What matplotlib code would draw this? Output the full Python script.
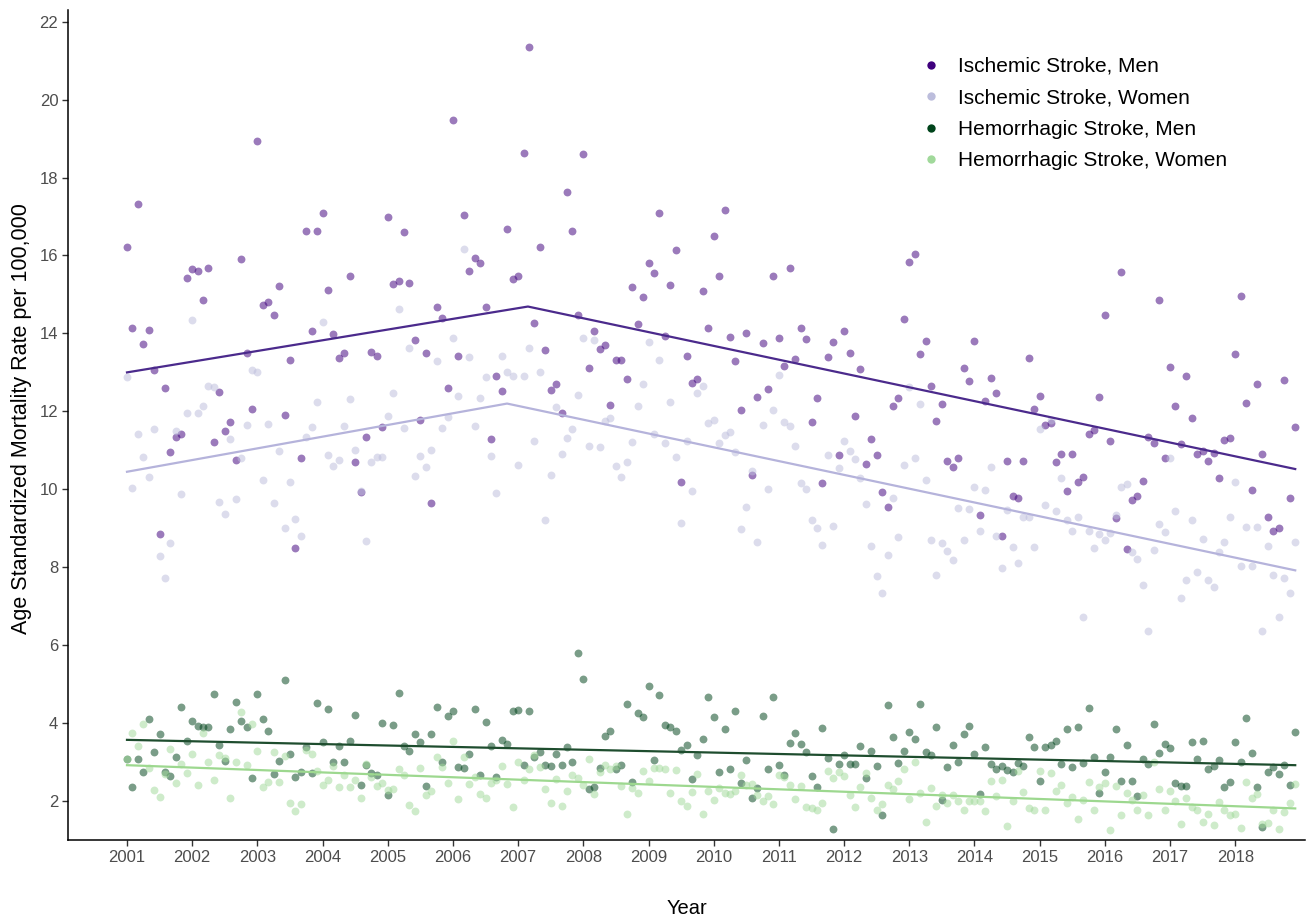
import matplotlib
matplotlib.use("Agg")
import matplotlib.pyplot as plt
from matplotlib.lines import Line2D
import numpy as np

plt.rcParams["font.family"] = ["Liberation Sans", "DejaVu Sans"]

years = list(range(2001, 2019))

# monthly age standardized mortality rates, one row per year (Jan..Dec)
isch_men = [
    [16.22, 14.15, 17.31, 13.72, 14.08, 13.05, 8.86, 12.59, 10.95, 11.34, 11.43, 15.41],
    [15.65, 15.61, 14.85, 15.69, 11.22, 12.49, 11.49, 11.73, 10.76, 15.90, 13.49, 12.05],
    [18.95, 14.74, 14.81, 14.48, 15.22, 11.90, 13.33, 8.50, 10.81, 16.62, 14.06, 16.62],
    [17.09, 15.12, 13.99, 13.36, 13.51, 15.47, 10.70, 9.94, 11.34, 13.53, 13.41, 11.59],
    [16.99, 15.28, 15.35, 16.60, 15.29, 13.82, 11.78, 13.50, 9.64, 14.68, 14.40, 12.61],
    [19.47, 13.42, 17.04, 15.59, 15.94, 15.80, 14.68, 11.28, 12.91, 12.53, 16.67, 15.39],
    [15.47, 18.64, 21.34, 14.27, 16.23, 13.57, 12.54, 12.70, 11.95, 17.63, 16.62, 14.48],
    [18.61, 13.10, 14.07, 13.60, 13.70, 12.16, 13.32, 13.32, 12.83, 15.18, 14.23, 14.94],
    [15.82, 15.56, 17.10, 13.93, 15.25, 16.14, 10.20, 13.41, 12.73, 12.82, 15.10, 14.14],
    [16.50, 15.48, 17.18, 13.90, 13.28, 12.04, 14.02, 10.36, 12.36, 13.75, 12.58, 15.47],
    [13.89, 13.16, 15.67, 13.34, 14.15, 13.85, 11.72, 12.34, 10.15, 13.40, 13.77, 10.87],
    [14.06, 13.51, 11.89, 13.08, 10.65, 11.30, 10.88, 9.93, 9.55, 12.13, 12.35, 14.37],
    [15.83, 16.04, 13.47, 13.80, 12.64, 11.74, 12.18, 10.73, 10.57, 10.80, 13.12, 12.79],
    [13.81, 9.35, 12.26, 12.86, 12.47, 8.79, 10.73, 9.83, 9.78, 10.73, 13.37, 12.05],
    [12.39, 11.66, 11.70, 10.69, 10.91, 9.95, 10.90, 10.20, 10.31, 11.41, 11.51, 12.37],
    [14.47, 11.25, 9.26, 15.57, 8.48, 9.73, 9.83, 10.22, 11.34, 11.19, 14.85, 10.80],
    [13.15, 12.14, 11.17, 12.92, 11.82, 10.91, 10.98, 10.73, 10.93, 10.28, 11.27, 11.31],
    [13.47, 14.96, 12.22, 9.98, 12.69, 10.90, 9.29, 8.93, 9.01, 12.81, 9.78, 11.59],
]
isch_women = [
    [12.87, 10.03, 11.43, 10.83, 10.32, 11.56, 8.28, 7.72, 8.63, 11.49, 9.89, 11.97],
    [14.34, 11.97, 12.14, 12.65, 12.62, 9.67, 9.37, 11.28, 9.76, 10.80, 11.66, 13.07],
    [13.00, 10.23, 11.67, 9.66, 10.98, 9.00, 10.20, 9.23, 8.79, 11.34, 11.60, 12.25],
    [14.30, 10.88, 10.61, 10.74, 11.62, 12.31, 11.01, 9.95, 8.67, 10.70, 10.83, 10.83],
    [11.88, 12.46, 14.63, 11.58, 13.63, 10.34, 10.85, 10.57, 11.00, 13.29, 11.57, 11.86],
    [13.89, 12.39, 16.17, 13.40, 11.62, 12.34, 12.88, 10.85, 9.90, 13.42, 13.02, 12.92],
    [10.62, 12.90, 13.62, 11.25, 13.02, 9.21, 10.36, 12.12, 10.90, 11.32, 11.56, 12.42],
    [13.89, 11.12, 13.83, 11.08, 11.76, 11.82, 10.59, 10.31, 10.70, 11.22, 12.13, 12.69],
    [13.77, 11.42, 13.32, 11.20, 12.24, 10.83, 9.13, 11.25, 9.95, 12.48, 12.66, 11.69],
    [11.78, 11.18, 11.39, 11.46, 10.96, 8.98, 9.54, 10.48, 8.66, 11.64, 10.00, 12.03],
    [12.93, 11.72, 11.62, 11.10, 10.17, 10.01, 9.21, 9.00, 8.56, 10.87, 9.06, 10.55],
    [11.24, 10.97, 10.77, 10.30, 9.62, 8.55, 7.78, 7.35, 8.31, 9.77, 8.78, 10.63],
    [12.63, 10.80, 12.18, 10.23, 8.70, 7.79, 8.62, 8.42, 8.18, 9.53, 8.70, 9.50],
    [10.05, 8.93, 9.99, 10.57, 8.81, 7.99, 9.46, 8.53, 8.12, 9.28, 9.30, 8.51],
    [11.54, 9.60, 11.77, 9.45, 10.29, 9.21, 8.92, 9.28, 6.71, 8.94, 8.49, 8.84],
    [8.70, 8.88, 9.35, 10.06, 10.13, 8.40, 8.20, 7.55, 6.36, 8.43, 9.11, 8.91],
    [10.80, 9.44, 7.20, 7.66, 9.21, 7.87, 8.72, 7.66, 7.49, 8.40, 8.64, 9.28],
    [10.19, 8.02, 9.02, 8.02, 9.02, 6.37, 8.54, 7.80, 6.72, 7.72, 7.33, 8.64],
]
hem_men = [
    [3.09, 2.35, 3.07, 2.75, 4.11, 3.25, 3.71, 2.74, 2.63, 3.12, 4.41, 3.55],
    [4.06, 3.93, 3.89, 3.89, 4.74, 3.43, 3.02, 3.86, 4.54, 4.06, 3.90, 2.58],
    [4.74, 4.11, 3.79, 2.70, 3.03, 5.10, 3.20, 2.61, 2.75, 3.38, 2.72, 4.51],
    [3.52, 4.35, 2.99, 3.42, 2.99, 3.53, 4.20, 2.41, 2.93, 2.72, 2.66, 4.01],
    [2.16, 3.96, 4.76, 3.41, 3.29, 3.72, 3.52, 2.38, 3.72, 4.41, 2.99, 4.17],
    [4.30, 2.88, 2.84, 3.20, 4.37, 2.66, 4.02, 3.41, 2.61, 3.57, 3.46, 4.31],
    [4.34, 2.92, 4.31, 3.14, 3.27, 2.92, 2.89, 3.20, 2.92, 3.38, 3.01, 5.81],
    [5.14, 2.30, 2.37, 2.85, 3.68, 3.79, 2.81, 2.92, 4.50, 2.48, 4.27, 4.16],
    [4.95, 3.05, 4.72, 3.96, 3.91, 3.81, 3.31, 3.43, 2.56, 3.18, 3.60, 4.67],
    [4.16, 2.74, 3.85, 2.83, 4.32, 2.47, 3.05, 2.09, 2.34, 4.17, 2.82, 4.67],
    [2.93, 2.68, 3.49, 3.75, 3.47, 3.26, 2.65, 2.35, 3.88, 3.11, 1.27, 2.95],
    [3.17, 2.95, 2.95, 3.42, 2.60, 3.29, 2.89, 1.65, 4.46, 3.65, 2.98, 3.29],
    [3.77, 3.60, 4.49, 3.27, 3.19, 3.89, 2.02, 2.87, 3.44, 3.01, 3.72, 3.93],
    [3.21, 2.18, 3.38, 2.95, 2.82, 2.90, 2.79, 2.75, 2.98, 2.89, 3.64, 3.38],
    [2.51, 3.39, 3.43, 3.55, 2.96, 3.85, 2.87, 3.89, 2.98, 4.38, 3.14, 2.21],
    [2.75, 3.12, 3.86, 2.52, 3.44, 2.51, 2.12, 3.07, 2.94, 3.98, 3.23, 3.47],
    [3.36, 2.47, 2.39, 2.39, 3.51, 3.07, 3.53, 2.81, 2.90, 3.06, 2.35, 2.49],
    [3.52, 2.99, 4.14, 3.24, 2.35, 1.33, 2.74, 2.87, 2.69, 2.93, 2.40, 3.77],
]
hem_women = [
    [3.09, 3.74, 3.41, 3.97, 2.84, 2.29, 2.10, 2.70, 3.34, 2.46, 2.96, 2.72],
    [3.20, 2.40, 3.74, 3.01, 2.54, 3.18, 3.11, 2.09, 3.01, 4.29, 2.92, 3.98],
    [3.28, 2.35, 2.50, 3.27, 2.48, 3.15, 1.94, 1.74, 1.92, 3.31, 3.20, 2.78],
    [2.41, 2.53, 2.89, 2.37, 2.67, 2.37, 2.53, 2.07, 2.96, 2.61, 2.38, 2.47],
    [2.28, 2.30, 2.81, 2.66, 1.90, 1.74, 2.86, 2.16, 2.27, 3.12, 2.87, 2.46],
    [3.54, 2.05, 3.12, 2.44, 2.61, 2.18, 2.07, 2.47, 2.54, 2.89, 2.44, 1.85],
    [3.01, 2.54, 2.83, 3.19, 2.87, 2.30, 1.94, 2.57, 1.87, 2.25, 2.68, 2.59],
    [2.42, 3.07, 2.18, 2.74, 2.92, 2.81, 2.89, 2.38, 1.67, 2.34, 2.20, 2.77],
    [2.51, 2.86, 2.86, 2.81, 2.20, 2.79, 1.99, 1.88, 2.22, 2.70, 1.68, 2.27],
    [2.02, 2.34, 2.20, 2.18, 2.27, 2.68, 2.42, 2.44, 2.15, 1.99, 2.14, 1.93],
    [2.68, 2.61, 2.41, 2.05, 2.38, 1.85, 1.81, 1.78, 1.96, 2.77, 2.59, 2.74],
    [2.65, 2.16, 1.84, 2.36, 2.72, 2.07, 1.78, 1.92, 2.40, 2.31, 2.51, 2.82],
    [2.05, 3.00, 2.21, 1.45, 2.34, 1.87, 2.15, 1.94, 2.15, 2.00, 1.76, 2.00],
    [2.00, 2.00, 1.74, 2.51, 2.13, 2.53, 1.36, 2.00, 2.77, 2.23, 1.83, 1.76],
    [2.76, 1.78, 2.72, 2.27, 2.41, 1.95, 2.11, 1.54, 2.02, 2.50, 1.77, 2.37],
    [2.47, 1.26, 2.39, 1.64, 2.21, 2.02, 1.78, 2.15, 1.63, 3.01, 2.32, 1.78],
    [2.27, 1.99, 1.41, 2.07, 1.85, 1.77, 1.47, 1.67, 1.38, 1.97, 1.77, 1.64],
    [1.68, 1.31, 2.49, 2.09, 2.18, 1.41, 1.43, 1.76, 1.27, 1.72, 1.94, 2.44],
]

# fitted trends (joinpoint knots: decimal year, rate)
isch_men_trend_x = [2001.0, 2007.15, 2018.92]
isch_men_trend_y = [13.0, 14.69, 10.52]
isch_women_trend_x = [2001.0, 2006.83, 2018.92]
isch_women_trend_y = [10.45, 12.20, 7.92]
hem_men_trend_x = [2001.0, 2018.92]
hem_men_trend_y = [3.57, 2.92]
hem_women_trend_x = [2001.0, 2018.92]
hem_women_trend_y = [2.92, 1.81]

labels = ["Ischemic Stroke, Men", "Ischemic Stroke, Women",
          "Hemorrhagic Stroke, Men", "Hemorrhagic Stroke, Women"]
colors = ["#3F007D", "#BCBDDC", "#00441B", "#A1D99B"]
line_colors = ["#4B2A8C", "#B5B3DB", "#1E4D2E", "#9DD88F"]

series = [isch_men, isch_women, hem_men, hem_women]
trends = [(isch_men_trend_x, isch_men_trend_y), (isch_women_trend_x, isch_women_trend_y),
          (hem_men_trend_x, hem_men_trend_y), (hem_women_trend_x, hem_women_trend_y)]

fig = plt.figure(figsize=(13.15, 9.17), dpi=100)
ax = fig.add_axes([68 / 1315, 77 / 917, 1237 / 1315, 830 / 917])

for vals, col in zip(series, colors):
    v = np.array(vals).ravel()
    x = years[0] + np.arange(len(v)) / 12
    ax.scatter(x, v, s=32, color=col, alpha=0.52, linewidths=0, zorder=2)

for (tx, ty), col in zip(trends, line_colors):
    ax.plot(tx, ty, color=col, linewidth=1.6, zorder=3)

ax.set_xlim(2000.095, 2019.07)
ax.set_ylim(1.0, 22.3)
ax.set_xticks(years)
ax.set_yticks(np.arange(2, 23, 2))
ax.tick_params(axis="both", labelsize=12, labelcolor="#4D4D4D", length=4,
               width=1, color="#333333", pad=3)
ax.spines["top"].set_visible(False); ax.spines["right"].set_visible(False)
for s in ["left", "bottom"]:
    ax.spines[s].set_linewidth(1.1)

fig.text((68 + 1305) / 2 / 1315, 8 / 917, "Year", ha="center", va="center", fontsize=14.5)
fig.text(22 / 1315, 1 - 419 / 917, "Age Standardized Mortality Rate per 100,000",
         ha="center", va="center", rotation=90, fontsize=15.5)

handles = [Line2D([0], [0], marker="o", linestyle="", markersize=6,
                  markerfacecolor=c, markeredgewidth=0) for c in colors]
fig.legend(handles, labels, loc="upper left", bbox_to_anchor=(923 / 1315, 1 - 57 / 917),
           frameon=False, fontsize=15, handlelength=0.8, handletextpad=0.9,
           labelspacing=0.6, borderpad=0, borderaxespad=0)

plt.savefig("out.png", dpi=100, facecolor="white")
